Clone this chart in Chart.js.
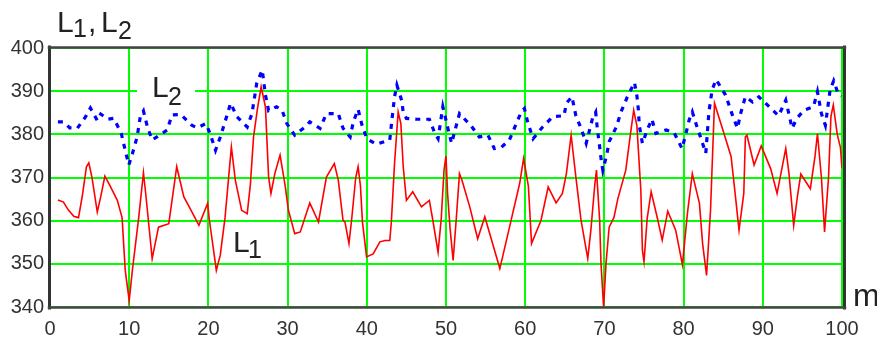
<!DOCTYPE html>
<html>
<head>
<meta charset="utf-8">
<script src="https://cdn.jsdelivr.net/npm/chart.js@4/dist/chart.umd.min.js"></script>
<style>
html,body{margin:0;padding:0;background:#fff;}
#wrap{position:relative;width:877px;height:341px;}
canvas{display:block;}
</style>
</head>
<body>
<div id="wrap"><canvas id="c" width="877" height="341"></canvas></div>
<script>
// ---- data ----
const xTicks = [0,10,20,30,40,50,60,70,80,90,100];
const yTicks = [340,350,360,370,380,390,400];

const L1_x = [1,1.7,2.3,3.0,3.6,4.1,4.6,4.9,5.3,5.97,6.4,6.93,7.6,8.5,9.1,9.5,10.0,10.4,11.2,11.8,12.1,12.9,13.7,15.0,16.0,16.9,17.7,18.8,19.9,20.1,21.0,21.5,22.1,22.9,23.4,24.2,24.9,25.3,25.7,26.2,26.66,27.2,27.6,27.9,28.4,29.05,29.7,30.1,30.9,31.6,32.8,33.9,34.9,35.9,36.4,37.0,37.24,37.75,38.1,38.6,38.9,39.2,39.45,39.97,40.8,41.65,42.3,42.9,43.1,43.5,43.96,44.3,44.6,45.0,45.8,46.9,47.9,48.3,49.0,49.4,49.75,50.0,50.2,50.5,50.9,51.3,51.7,52.0,53.0,54.0,54.9,56.8,58.4,59.3,59.8,60.4,60.6,60.8,62.0,62.9,63.9,64.7,65.2,65.8,66.4,67.05,67.9,68.3,68.8,69.0,69.4,69.57,69.9,70.2,70.6,71.2,71.7,72.7,73.3,73.7,74.1,74.6,74.8,75.0,75.4,75.9,76.7,77.3,78.0,79.0,79.85,80.5,81.1,82.0,82.4,82.9,83.4,83.6,83.9,85.1,86.0,86.6,87.0,87.6,87.8,88.0,88.9,89.8,91.0,91.8,92.9,93.3,93.9,94.4,94.8,96.0,96.6,96.9,97.4,97.8,98.3,98.6,98.9,99.4,99.8,100];
const L1_y = [364.8,364.3,362.5,361,360.7,366,372.5,373.4,370,362,365.5,370.3,368,364.7,360.7,348.5,341.5,348.5,360.7,371.1,366,351.2,358.5,359.3,372.5,365.5,362.8,358.9,364,360.5,348.5,352,360.7,377.1,369.4,362.4,361.6,368.4,379.4,386,391,386.4,370.1,366.3,371,375.2,368,362.4,357,357.4,364.1,359.7,370.1,373.2,369.4,360.1,359.7,354.7,360.5,370,372.5,368,359.7,351.6,352.3,355.1,355.4,355.4,359.7,373.2,385.2,382.5,372.5,364.7,366.7,363.2,364.7,360.5,352.7,360.5,371.7,375,366.3,358.5,350.8,360.5,370.9,369.5,363.2,355.8,360.9,348.9,361.5,368.6,374.4,368,361.5,354.7,360.1,367.8,364.1,366.3,370.9,379.8,370.1,360.1,351.2,358,368.6,371.7,360.1,350,340,350,358.5,360.7,365.1,371.7,380.2,385.6,382,367.1,353.1,350.5,360.5,366.7,360.5,355.5,362.2,357.8,349.8,362,370.9,364,354.7,347.3,362.4,372.5,387.2,380.2,374.8,364.7,357.8,366.3,379.4,379.8,372.9,377.3,372,366.3,376.7,371,358.9,366,370.8,367.4,375,380.2,370,357.4,370,384.1,386.8,380,377,372.1];

const L2_x = [1.0,1.7,2.5,3.45,4.5,5.1,5.97,6.4,7.3,8.06,9.0,9.5,9.95,10.4,11.0,11.4,11.8,12.3,12.9,13.5,14.8,15.4,16.5,17.9,18.6,19.7,20.2,20.9,21.5,22.1,22.8,23.6,24.9,25.5,26.1,26.8,27.2,27.6,28.6,29.3,29.9,30.9,32.2,32.8,34.1,34.9,36.4,37.0,37.9,38.3,38.9,39.4,40.0,41.2,42.9,43.1,43.5,43.8,44.4,44.6,45.0,46.3,47.9,48.6,49.0,49.6,50.2,50.7,51.7,53.2,54.2,55.3,56.1,57.0,58.0,58.7,59.5,59.9,60.3,61.0,62.2,63.5,64.9,65.2,65.9,66.4,67.05,67.7,68.5,68.9,69.1,69.35,69.6,69.8,70.3,70.6,71.5,72.1,72.9,73.8,74.1,74.3,74.4,74.8,75.4,76.0,76.5,77.8,78.8,79.8,80.3,80.7,81.1,81.7,82.4,82.8,83.2,83.6,84.1,85.3,86.1,86.8,87.2,87.8,88.7,89.5,90.8,92.0,92.9,93.7,94.3,95.2,96.4,96.9,97.4,97.9,98.5,98.95,99.5,99.9];
const L2_y = [382.9,382.9,381.5,381.4,384.1,386.1,383.2,384.7,383.5,383.7,380.2,376.3,372.9,375.5,379.4,384.1,385.4,381.7,378.7,379.4,381.0,384.5,384.6,382.1,381.5,382.5,380.2,376.3,379.4,382.9,387.2,384.1,381.7,384.8,391.8,394.9,389.1,385.5,386.4,385.6,382.5,379.8,381.7,382.9,381.4,384.8,384.8,381.4,379.4,382.9,385.8,382.1,379.0,377.7,378.7,382.1,388.7,391.4,387.9,385.1,383.7,383.5,383.5,380.2,379.0,386.4,381.7,377.9,384.8,381.9,379.4,379.8,376.7,377,378.7,381.7,385.2,386.0,382.9,379.0,381.7,384.1,384.3,387.2,388.7,384.3,381.4,377.9,383.7,385.1,381.4,377.9,374.0,371.7,375.3,378.3,381.7,385.2,388.7,392.0,389.0,385.5,382.1,377.9,381.0,383.5,380.2,381.0,380.4,376.7,380.2,383.3,385.2,381.7,377.9,375.6,385.2,390.3,392.7,389.1,384.8,381.4,384.8,388.7,387.5,388.7,386.4,384.3,387.9,381.4,383.7,385.6,386.4,389.9,384.8,382.1,390.3,392.4,389.5,388.8];

const pts = (xs, ys) => xs.map((x, i) => ({x: x, y: ys[i]}));

const FONT = '"Liberation Sans", Arial, sans-serif';

function drawSub(ctx, parts) {
  parts.forEach(p => {
    ctx.font = p[3] + 'px ' + FONT;
    ctx.fillText(p[0], p[1], p[2]);
  });
}

const decor = {
  id: 'decor',
  beforeDatasetsDraw(chart) {
    const ctx = chart.ctx;
    ctx.save();
    ctx.fillStyle = '#ffffff';
    ctx.fillRect(137, 84, 58, 12);
    ctx.fillStyle = '#222222';
    ctx.textBaseline = 'alphabetic';
    ctx.textAlign = 'left';
    drawSub(ctx, [['L', 152, 97, 30], ['2', 168, 105, 25]]);
    drawSub(ctx, [['L', 233, 252, 30], ['1', 248, 258, 25]]);
    ctx.restore();
  },
  afterDraw(chart) {
    const ctx = chart.ctx;
    const a = chart.chartArea;
    const L = a.left, R = a.right, T = a.top, B = a.bottom;
    ctx.save();
    ctx.lineCap = 'square';
    // left
    ctx.strokeStyle = '#333333'; ctx.lineWidth = 3;
    ctx.beginPath(); ctx.moveTo(L - 0.5, T - 1); ctx.lineTo(L - 0.5, B + 1); ctx.stroke();
    // right (outside the x=100 grid line)
    ctx.beginPath(); ctx.moveTo(R + 2.5, T - 1); ctx.lineTo(R + 2.5, B + 1); ctx.stroke();
    // top and bottom
    ctx.strokeStyle = '#444444'; ctx.lineWidth = 2.5;
    ctx.beginPath(); ctx.moveTo(L - 1, T - 0.5); ctx.lineTo(R + 3, T - 0.5); ctx.stroke();
    ctx.beginPath(); ctx.moveTo(L - 1, B + 0.5); ctx.lineTo(R + 3, B + 0.5); ctx.stroke();

    ctx.fillStyle = '#222222';
    ctx.textBaseline = 'alphabetic';
    ctx.textAlign = 'left';
    drawSub(ctx, [['L', 57, 32, 30], ['1', 73, 37, 25], [',', 88, 32, 30], ['L', 101, 32, 30], ['2', 118, 39, 25]]);
    drawSub(ctx, [['m', 853, 306, 32]]);
    ctx.restore();
  }
};

new Chart(document.getElementById('c'), {
  type: 'line',
  data: {
    datasets: [
      {
        label: 'L1',
        data: pts(L1_x, L1_y),
        borderColor: '#ff0000',
        borderWidth: 1.6,
        pointRadius: 0,
        tension: 0,
        fill: false
      },
      {
        label: 'L2',
        data: pts(L2_x, L2_y),
        borderColor: '#0000ff',
        borderWidth: 3.2,
        borderDash: [5, 6],
        pointRadius: 0,
        tension: 0,
        fill: false
      }
    ]
  },
  options: {
    responsive: false,
    animation: false,
    devicePixelRatio: 1,
    layout: { padding: { top: 48, right: 35, left: 0, bottom: 0 } },
    plugins: { legend: { display: false }, tooltip: { enabled: false }, title: { display: false } },
    scales: {
      x: {
        type: 'linear',
        min: 0, max: 100,
        afterBuildTicks: (s) => { s.ticks = xTicks.map(v => ({ value: v })); },
        afterFit: (s) => { s.height = 34; },
        ticks: { color: '#333333', font: { family: FONT, size: 20 }, padding: 10, maxRotation: 0, autoSkip: false },
        grid: { color: '#00ff00', lineWidth: 2, drawTicks: false },
        border: { display: false }
      },
      y: {
        min: 340, max: 400,
        afterBuildTicks: (s) => { s.ticks = yTicks.map(v => ({ value: v })); },
        afterFit: (s) => { s.width = 50; },
        ticks: { color: '#333333', font: { family: FONT, size: 20 }, padding: 6, autoSkip: false },
        grid: { color: '#00ff00', lineWidth: 2, drawTicks: false },
        border: { display: false }
      }
    }
  },
  plugins: [decor]
});
</script>
</body>
</html>
